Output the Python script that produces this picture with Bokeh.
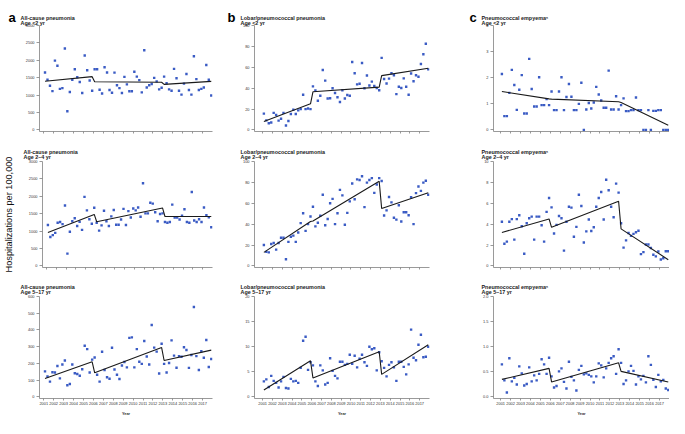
from bokeh.plotting import figure
from bokeh.layouts import column, row
from bokeh.models import FixedTicker, Range1d, PrintfTickFormatter, Title, LinearAxis
from bokeh.embed import file_html
from bokeh.resources import INLINE

# ---------------- data ----------------
years = list(range(2001, 2018))
quarters = [1, 2, 3, 4]
segments = [(0, 19), (20, 47), (48, 67)]   # quarter index ranges of the three fitted periods

titles = ["All-cause pneumonia", "Lobar/pneumococcal pneumonia", "Pneumococcal empyema\u1d43"]
ages = ["Age <2 yr", "Age 2\u20134 yr", "Age 5\u201317 yr"]
letters = ["a", "b", "c"]

allcause_lt2 = [1650, 1440, 1270, 1115, 1990, 1845, 1180, 1200, 2340, 535,
                1090, 1440, 1745, 1515, 1375, 1060, 2140, 1715, 1420, 1125,
                1745, 1745, 1155, 1045, 1800, 1650, 1145, 1070, 1645, 1285,
                1200, 1060, 1525, 1310, 1110, 1110, 1670, 1530, 1430, 1080,
                2290, 1220, 1285, 1320, 1495, 1395, 1165, 1210, 1530, 1340,
                1165, 1125, 1755, 1485, 1125, 1015, 1330, 1605, 1145, 1015,
                2115, 1460, 1145, 1180, 1220, 1865, 1440, 990]
allcause_2to4 = [1175, 830, 885, 950, 1240, 1260, 1200, 1735, 355, 980,
                 1285, 1370, 1145, 1265, 1035, 1985, 1595, 1340, 1210, 1670,
                 1240, 1015, 1165, 1585, 1285, 1145, 1425, 1605, 1185, 1185,
                 1335, 1640, 1175, 1575, 1390, 1650, 1595, 1680, 1415, 2375,
                 1510, 1510, 1815, 1790, 1540, 1285, 1490, 1510, 1260, 1240,
                 1260, 1760, 1390, 1390, 1335, 1445, 1630, 1260, 1240, 2125,
                 1305, 1260, 1340, 1260, 1680, 1455, 1400, 1110]
allcause_5to17 = [153, 122, 92, 148, 146, 185, 111, 194, 218, 70,
                  78, 194, 142, 137, 127, 166, 306, 286, 146, 223,
                  236, 133, 92, 270, 161, 118, 109, 294, 164, 133,
                  107, 188, 209, 177, 353, 356, 177, 286, 210, 198,
                  334, 242, 194, 430, 295, 271, 140, 318, 198, 146,
                  203, 338, 247, 175, 244, 240, 297, 281, 174, 251,
                  537, 244, 161, 273, 234, 340, 179, 227]
lobar_lt2 = [15.6, 9.2, 6.4, 7.1, 16.3, 14.4, 8.9, 10.7, 16.3, 4.3,
             8.6, 15.3, 19.3, 15.3, 18.7, 19.9, 33.7, 19.9, 20.5, 19.9,
             41.7, 37.7, 27.9, 32.8, 57.4, 47.2, 30.1, 30.4, 39.9, 35.3,
             31.3, 26.7, 38.0, 30.1, 33.4, 32.8, 65.0, 54.3, 43.6, 44.2,
             64.1, 39.9, 52.1, 42.6, 46.3, 42.0, 40.2, 38.0, 69.0, 48.8,
             44.5, 49.1, 54.3, 52.4, 34.3, 41.4, 40.2, 49.4, 41.4, 33.7,
             54.0, 46.6, 52.4, 50.9, 63.2, 72.4, 82.5, 58.0]
lobar_2to4 = [20.0, 13.5, 13.0, 21.0, 22.0, 15.6, 22.0, 27.0, 27.0, 6.4,
              23.0, 28.0, 29.0, 23.0, 32.0, 41.0, 50.5, 33.6, 40.0, 47.4,
              56.6, 37.9, 41.3, 48.0, 68.2, 39.0, 45.0, 60.0, 64.2, 40.0,
              50.5, 72.8, 67.6, 39.4, 50.8, 61.8, 78.9, 63.9, 82.9, 82.3,
              85.9, 56.3, 79.8, 82.3, 84.1, 70.0, 78.0, 84.1, 81.3, 48.3,
              53.2, 66.0, 60.9, 46.2, 44.3, 58.1, 42.5, 51.4, 51.4, 48.6,
              65.7, 40.0, 69.7, 76.1, 71.9, 79.8, 81.6, 68.2]
lobar_5to17 = [3.1, 3.5, 2.0, 4.2, 3.2, 2.8, 1.9, 3.1, 4.0, 1.8,
               1.7, 3.6, 3.1, 3.2, 2.8, 5.8, 11.2, 12.0, 5.4, 6.9,
               6.3, 3.1, 2.2, 6.3, 5.3, 2.5, 2.8, 7.7, 5.2, 4.2,
               3.7, 7.0, 7.0, 6.4, 6.6, 8.4, 6.6, 8.2, 5.9, 7.6,
               8.4, 6.9, 6.2, 10.0, 9.5, 9.7, 5.3, 8.9, 7.1, 5.8,
               4.1, 6.4, 6.9, 5.9, 3.2, 7.0, 7.0, 6.0, 4.5, 6.5,
               13.4, 7.8, 7.3, 10.4, 12.4, 7.9, 8.0, 10.0]
empyema_lt2 = [2.14, 0.53, 0.53, 1.42, 2.30, 1.72, 0.77, 1.54, 2.10, 0.63,
               0.63, 2.72, 1.57, 0.90, 0.90, 2.02, 0.95, 0.95, 1.18, 0.95,
               1.47, 0.76, 0.76, 1.47, 2.02, 0.76, 1.26, 1.76, 1.27, 0.76,
               0.76, 1.00, 1.81, 0.00, 0.78, 1.03, 0.82, 1.05, 1.65, 1.36,
               1.13, 0.85, 0.85, 2.27, 0.78, 0.78, 1.29, 0.78, 0.95, 1.21,
               0.72, 0.72, 0.76, 0.76, 1.24, 0.76, 0.76, 0.00, 0.00, 0.76,
               0.00, 0.73, 0.73, 0.76, 0.76, 0.00, 0.00, 0.00]
empyema_2to4 = [4.23, 2.12, 2.33, 4.23, 4.48, 2.52, 4.48, 4.85, 3.80, 1.17,
                4.08, 4.57, 4.72, 2.52, 4.72, 4.72, 3.90, 2.33, 5.18, 6.50,
                5.61, 3.10, 3.93, 4.78, 4.57, 1.47, 4.23, 5.67, 5.58, 2.79,
                3.74, 6.81, 5.74, 2.24, 3.31, 4.45, 3.34, 3.71, 5.67, 6.50,
                7.08, 4.45, 8.25, 7.24, 5.67, 4.66, 7.88, 7.02, 4.08, 1.75,
                2.45, 3.16, 2.88, 3.07, 3.22, 3.37, 1.13, 1.32, 2.05, 2.05,
                1.72, 1.07, 0.92, 1.38, 0.61, 0.74, 1.41, 1.40]
empyema_5to17 = [0.65, 0.33, 0.09, 0.77, 0.31, 0.38, 0.25, 0.61, 0.47, 0.23,
                 0.26, 0.59, 0.31, 0.43, 0.33, 0.46, 0.75, 0.65, 0.46, 0.78,
                 0.41, 0.19, 0.22, 0.51, 0.57, 0.30, 0.17, 0.70, 0.40, 0.33,
                 0.13, 0.54, 0.62, 0.45, 0.47, 0.44, 0.41, 0.29, 0.41, 0.67,
                 0.63, 0.39, 0.57, 0.68, 0.77, 0.81, 0.46, 0.95, 0.68, 0.26,
                 0.33, 0.51, 0.62, 0.52, 0.25, 0.41, 0.35, 0.42, 0.29, 0.81,
                 0.64, 0.34, 0.20, 0.44, 0.31, 0.34, 0.17, 0.14]

# fitted segmented-regression trend: (start, end) value of each period
trend_allcause_lt2 = [(1400, 1530), (1385, 1370), (1310, 1395)]
trend_allcause_2to4 = [(960, 1480), (1270, 1665), (1420, 1420)]
trend_allcause_5to17 = [(110, 210), (145, 295), (218, 280)]
trend_lobar_lt2 = [(8, 25), (36.5, 41), (52, 59)]
trend_lobar_2to4 = [(13, 42.5), (43, 81), (55, 70)]
trend_lobar_5to17 = [(1.4, 7.2), (3.8, 9.0), (4.5, 10.4)]
trend_empyema_lt2 = [(1.47, 1.19), (1.18, 1.08), (1.05, 0.18)]
trend_empyema_2to4 = [(3.2, 4.5), (3.7, 6.2), (3.55, 0.6)]
trend_empyema_5to17 = [(0.35, 0.57), (0.30, 0.68), (0.51, 0.30)]

yticks_allcause = [0, 500, 1000, 1500, 2000, 2500, 3000]
yticks_allcause_older = [0, 100, 200, 300, 400, 500, 600]
yticks_lobar = [0, 20, 40, 60, 80, 100]
yticks_lobar_older = [0, 5, 10, 15, 20]
yticks_emp_lt2 = [0, 1, 2, 3, 4]
yticks_emp_2to4 = [0, 2, 4, 6, 8, 10]
yticks_emp_older = [0.0, 0.5, 1.0, 1.5, 2.0]

values = [[allcause_lt2, lobar_lt2, empyema_lt2],
          [allcause_2to4, lobar_2to4, empyema_2to4],
          [allcause_5to17, lobar_5to17, empyema_5to17]]
trends = [[trend_allcause_lt2, trend_lobar_lt2, trend_empyema_lt2],
          [trend_allcause_2to4, trend_lobar_2to4, trend_empyema_2to4],
          [trend_allcause_5to17, trend_lobar_5to17, trend_empyema_5to17]]
yticks = [[yticks_allcause, yticks_lobar, yticks_emp_lt2],
          [yticks_allcause, yticks_lobar, yticks_emp_2to4],
          [yticks_allcause_older, yticks_lobar_older, yticks_emp_older]]
yfmt = [["%d", "%d", "%d"], ["%d", "%d", "%d"], ["%d", "%d", "%.1f"]]

# ---------------- style / geometry ----------------
FONT = "Liberation Sans"
BLUE = "#3a5bc4"
AXIS = "#808080"
TXT = "#333333"

COL_W = [216, 228, 225]
COL_BL = [39, 38, 49]
COL_BR = [4, 15, 0]
X0 = [2000.57, 2000.17, 2000.28]
ROW_H = [135, 137, 146]
ROW_BT = [25, 26, 24]
ROW_BB = [4, 5, 16]
TITLE_DX = [-19, -14, -12]
LETTER_DX = [-31, -27, -24]
TITLE_STANDOFF = [-22, 0, 0]
TOP_SPACER = [0, 9, 8]        # empty band above the title block (rows 2 and 3)
LETTER_STANDOFF = -3

xq = [y + (q - 0.5) / 4 for y in years for q in quarters]


def make_panel(r, c):
    ymax = yticks[r][c][-1]
    p = figure(width=COL_W[c], height=ROW_H[r], output_backend="svg", toolbar_location=None,
               title=None,
               x_range=Range1d(X0[c], 2018.0), y_range=Range1d(-0.015 * ymax, ymax),
               min_border_left=COL_BL[c], min_border_right=COL_BR[c],
               min_border_top=ROW_BT[r], min_border_bottom=ROW_BB[r],
               outline_line_color=None, border_fill_color="white")
    p.xgrid.visible = False
    p.ygrid.visible = False
    for ax in (p.xaxis[0], p.yaxis[0]):
        ax.axis_line_color = AXIS
        ax.axis_line_width = 0.8
        ax.major_tick_line_color = AXIS
        ax.major_tick_line_width = 0.8
        ax.major_tick_in = 0
        ax.minor_tick_line_color = None
        ax.major_label_text_font = FONT
        ax.major_label_text_font_size = "3.9px"
        ax.major_label_text_color = TXT
    p.yaxis.major_tick_out = 3
    p.yaxis.major_label_standoff = 2
    p.yaxis.ticker = FixedTicker(ticks=yticks[r][c])
    p.yaxis.formatter = PrintfTickFormatter(format=yfmt[r][c])
    p.xaxis.ticker = FixedTicker(ticks=years)
    p.xaxis.major_tick_out = 2
    if r < 2:
        p.xaxis.major_label_overrides = {y: "" for y in years}
        p.xaxis.major_label_standoff = 0
    else:
        p.xaxis.major_label_standoff = 1
        p.xaxis.axis_label = "Year"
        p.xaxis.axis_label_text_font = FONT
        p.xaxis.axis_label_text_font_size = "3.9px"
        p.xaxis.axis_label_text_font_style = "bold"
        p.xaxis.axis_label_text_color = TXT
        p.xaxis.axis_label_standoff = 3
    if r == 1 and c == 0:
        p.yaxis.axis_label = "Hospitalizations per 100,000"
        p.yaxis.axis_label_text_font = FONT
        p.yaxis.axis_label_text_font_size = "9.2px"
        p.yaxis.axis_label_text_font_style = "normal"
        p.yaxis.axis_label_text_color = "#111111"
        p.yaxis.axis_label_standoff = 12

    p.scatter(xq, values[r][c], marker="square", size=2.4, fill_color=BLUE, line_color=None)

    lx, ly = [], []
    for (s, e), (v0, v1) in zip(segments, trends[r][c]):
        lx += [xq[s], xq[e]]
        ly += [v0, v1]
    p.line(lx, ly, line_color="#1a1a1a", line_width=1.1)

    # two-line panel title (the first item added sits nearest the frame)
    p.add_layout(Title(text=titles[c] + "\n" + ages[r], align="left", vertical_align="top",
                       offset=TITLE_DX[c], standoff=TITLE_STANDOFF[r],
                       text_font=FONT, text_font_size="5.4px", text_font_style="bold",
                       text_line_height=0.86, text_color="#222222"), "above")
    if r == 0:
        p.add_layout(Title(text=letters[c], align="left", vertical_align="top",
                           offset=LETTER_DX[c], standoff=LETTER_STANDOFF,
                           text_font=FONT, text_font_size="13px", text_font_style="bold",
                           text_color="#000000"), "above")
    else:
        # invisible tick-less axis used only as a fixed-height spacer above the title
        spacer = LinearAxis(ticker=FixedTicker(ticks=[]), axis_line_color=None,
                            major_tick_line_color=None, minor_tick_line_color=None,
                            major_tick_in=0, major_tick_out=TOP_SPACER[r],
                            minor_tick_in=0, minor_tick_out=0)
        p.add_layout(spacer, "above")
    return p


rows = [row(*[make_panel(r, c) for c in range(3)]) for r in range(3)]
layout = column(*rows)

open("out.html", "w").write(file_html(layout, INLINE))
